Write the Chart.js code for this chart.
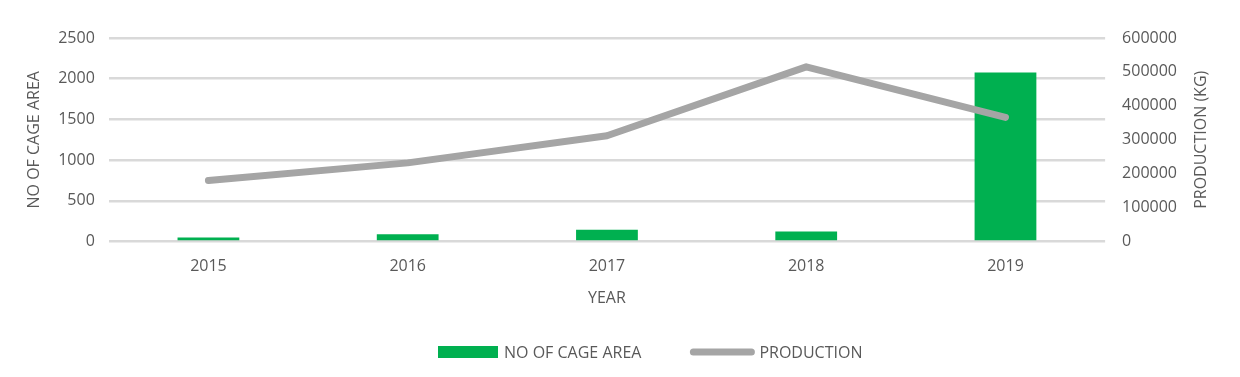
<!DOCTYPE html>
<html>
<head>
<meta charset="utf-8">
<script src="https://cdn.jsdelivr.net/npm/chart.js@4.4.1/dist/chart.umd.min.js"></script>
<style>
  html, body { margin: 0; padding: 0; background: #fff; }
  #wrap { width: 1240px; height: 377px; }
</style>
</head>
<body>
<div id="wrap"><canvas id="cage-chart"></canvas></div>
<script>
var years = ['2015', '2016', '2017', '2018', '2019'];
var cageArea = [50, 90, 145, 125, 2075];
var production = [180000, 232000, 312000, 515000, 366000];

var textColor = '#595959';
var barColor = '#00b050';
var lineColor = '#a5a5a5';
var fontFamily = "'Open Sans', sans-serif";
var fontSize = 16;

// right axis title (reads bottom-to-top) and the legend row, drawn by hand
var extras = {
  id: 'extras',
  afterDraw: function (c) {
    var g = c.ctx;
    var area = c.chartArea;
    g.save();
    g.font = fontSize + 'px ' + fontFamily;
    g.fillStyle = textColor;

    g.save();
    g.translate(1201, (area.top + area.bottom) / 2);
    g.rotate(-Math.PI / 2);
    g.textAlign = 'center';
    g.textBaseline = 'middle';
    g.fillText('PRODUCTION (KG)', 0, 0);
    g.restore();

    var labels = c.data.datasets.map(function (d) { return d.label; });
    var y = 352;
    var x = 438;
    g.textAlign = 'left';
    g.textBaseline = 'middle';
    g.fillStyle = barColor;
    g.fillRect(x, y - 6, 60, 12);
    x += 66;
    g.fillStyle = textColor;
    g.fillText(labels[0], x, y + 1);
    x += g.measureText(labels[0]).width + 52;
    g.strokeStyle = lineColor;
    g.lineWidth = 7;
    g.lineCap = 'round';
    g.beginPath();
    g.moveTo(x, y);
    g.lineTo(x + 58, y);
    g.stroke();
    x += 66;
    g.fillText(labels[1], x, y + 1);
    g.restore();
  }
};

// stop the tick padding from pushing the plot area down
function noOverflow(scale) {
  scale.paddingTop = 0;
  scale.paddingBottom = 0;
}

var ctx = document.getElementById('cage-chart');
var chart = new Chart(ctx, {
  type: 'bar',
  data: {
    labels: years,
    datasets: [{
      label: 'NO OF CAGE AREA',
      data: cageArea,
      backgroundColor: barColor,
      yAxisID: 'y',
      order: 1,
      barPercentage: 0.62,
      categoryPercentage: 0.5
    }, {
      type: 'line',
      label: 'PRODUCTION',
      data: production,
      borderColor: lineColor,
      backgroundColor: lineColor,
      borderWidth: 7,
      borderCapStyle: 'round',
      borderJoinStyle: 'round',
      pointRadius: 0,
      tension: 0,
      yAxisID: 'y1',
      order: 0
    }]
  },
  options: {
    responsive: true,
    maintainAspectRatio: false,
    animation: false,
    layout: { padding: { left: 25, right: 46, top: 38, bottom: 65 } },
    plugins: {
      tooltip: { enabled: false },
      legend: { display: false }
    },
    scales: {
      x: {
        grid: { display: false },
        border: { display: false },
        ticks: { color: textColor, font: { family: fontFamily, size: fontSize }, padding: 7 },
        title: { display: true, text: 'YEAR', color: textColor, font: { family: fontFamily, size: fontSize }, padding: { top: 6 } }
      },
      y: {
        position: 'left',
        min: 0,
        max: 2500,
        afterFit: noOverflow,
        ticks: {
          stepSize: 500, color: textColor, font: { family: fontFamily, size: fontSize }, padding: 14,
          callback: function (v) { return String(v); }
        },
        grid: { color: '#d9d9d9', lineWidth: 2.5, drawTicks: false },
        border: { display: false },
        title: { display: true, text: 'NO OF CAGE AREA', color: textColor, font: { family: fontFamily, size: fontSize }, padding: 0 }
      },
      y1: {
        position: 'right',
        min: 0,
        max: 600000,
        afterFit: noOverflow,
        ticks: {
          stepSize: 100000, color: textColor, font: { family: fontFamily, size: fontSize }, padding: 17,
          callback: function (v) { return String(v); }
        },
        grid: { display: false, drawTicks: false },
        border: { display: false },
        title: { display: false }
      }
    }
  },
  plugins: [extras]
});
</script>
</body>
</html>
